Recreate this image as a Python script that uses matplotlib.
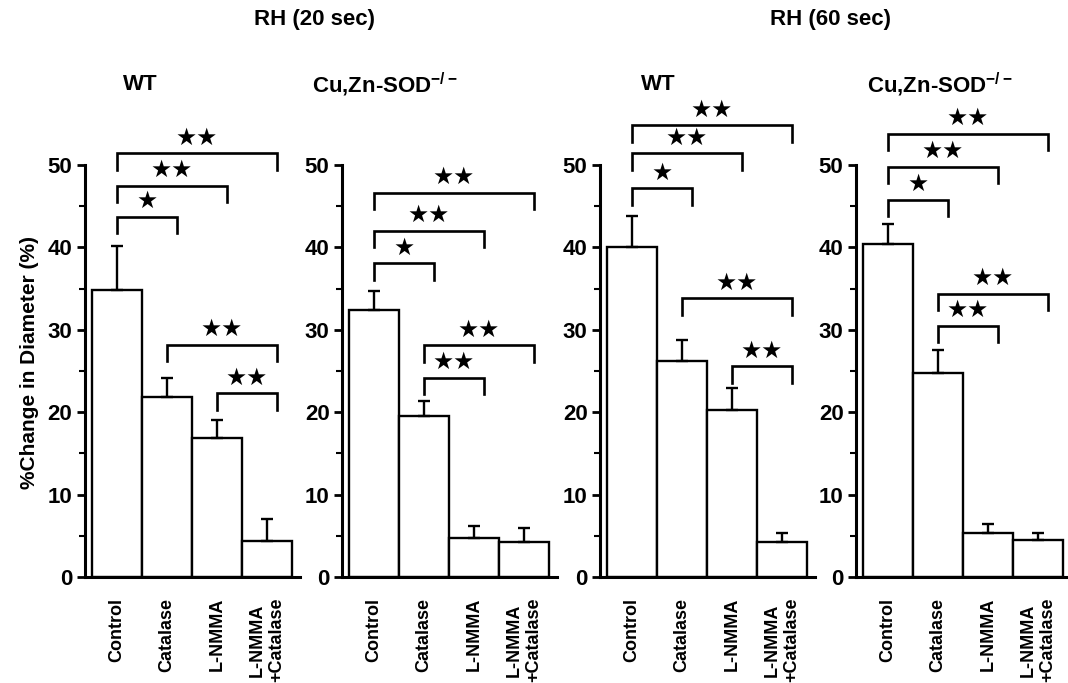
import numpy as np
import matplotlib
matplotlib.use("Agg")
import matplotlib.pyplot as plt

plt.rcParams['font.family'] = ['Liberation Sans', 'DejaVu Sans']
plt.rcParams['font.weight'] = 'bold'
plt.rcParams['axes.labelweight'] = 'bold'
plt.rcParams['mathtext.fontset'] = 'custom'
plt.rcParams['mathtext.rm'] = 'Liberation Sans:bold'
plt.rcParams['mathtext.bf'] = 'Liberation Sans:bold'

# Treatments (x categories)
groups = ["Control", "Catalase", "L-NMMA", "L-NMMA\n+Catalase"]

# % change in diameter, mean and SEM, one array per panel
wt20_mean = [34.8, 21.8, 16.9, 4.4]
wt20_sem = [5.4, 2.4, 2.2, 2.6]
sod20_mean = [32.4, 19.5, 4.7, 4.3]
sod20_sem = [2.3, 1.9, 1.5, 1.7]
wt60_mean = [40.0, 26.2, 20.3, 4.3]
wt60_sem = [3.8, 2.6, 2.6, 1.1]
sod60_mean = [40.4, 24.8, 5.4, 4.5]
sod60_sem = [2.4, 2.8, 1.0, 0.8]

# significance brackets: (from group, to group, height, stars)
wt20_sig = [(0, 3, 51.4, 2), (0, 2, 47.5, 2), (0, 1, 43.7, 1), (1, 3, 28.2, 2), (2, 3, 22.3, 2)]
sod20_sig = [(0, 3, 46.6, 2), (0, 2, 42.0, 2), (0, 1, 38.1, 1), (1, 3, 28.1, 2), (1, 2, 24.2, 2)]
wt60_sig = [(0, 3, 54.8, 2), (0, 2, 51.4, 2), (0, 1, 47.2, 1), (1, 3, 33.8, 2), (2, 3, 25.6, 2)]
sod60_sig = [(0, 3, 53.8, 2), (0, 2, 49.8, 2), (0, 1, 45.8, 1), (1, 3, 34.4, 2), (1, 2, 30.5, 2)]

panels = [
    ("WT", wt20_mean, wt20_sem, wt20_sig),
    ("Cu,Zn-SOD$^{\\mathbf{-/-}}$", sod20_mean, sod20_sem, sod20_sig),
    ("WT", wt60_mean, wt60_sem, wt60_sig),
    ("Cu,Zn-SOD$^{\\mathbf{-/-}}$", sod60_mean, sod60_sem, sod60_sig),
]

W, H = 1068, 683
fig = plt.figure(figsize=(W / 100, H / 100), dpi=100)

axis_left_px = [85, 342, 600, 856]
sub_x_px = [140, 385, 658, 940]
y0_px, y50_px = 577, 165
x_lo, x_hi = -0.64, 3.65
unit_px = 50

x = np.arange(len(groups))
for k, (name, mean, sem, sig) in enumerate(panels):
    width_px = (x_hi - x_lo) * unit_px
    ax = fig.add_axes([axis_left_px[k] / W, 1 - y0_px / H,
                       width_px / W, (y0_px - y50_px) / H])
    ax.bar(x, mean, width=1.0, color='white', edgecolor='black', linewidth=1.7, zorder=2)
    ax.errorbar(x, mean, yerr=[np.zeros(len(sem)), sem], fmt='none', ecolor='black',
                elinewidth=1.7, capsize=4.5, capthick=1.7, zorder=3)
    ax.set_xlim(x_lo, x_hi)
    ax.set_ylim(0, 50)
    for s in ['top', 'right']:
        ax.spines[s].set_visible(False)
    for s in ['left', 'bottom']:
        ax.spines[s].set_linewidth(2.2)
    ax.set_yticks(np.arange(0, 51, 10))
    ax.set_yticks(np.arange(5, 50, 10), minor=True)
    ax.set_yticklabels([str(v) for v in range(0, 51, 10)], fontsize=16, fontweight='bold')
    ax.tick_params(axis='y', which='major', length=6, width=2, pad=3)
    ax.tick_params(axis='y', which='minor', length=4, width=1.5)
    ax.set_xticks(x)
    ax.set_xticklabels(groups, rotation=90, fontsize=13, fontweight='bold',
                       va='top', ha='center', multialignment='center')
    ax.tick_params(axis='x', length=0, pad=15)
    if k == 0:
        ax.set_ylabel("%Change in Diameter (%)", fontsize=15, fontweight='bold')
        ax.yaxis.set_label_coords(-0.215, 0.52)

    # significance brackets
    for i, j, h, n in sig:
        xl, xr = i, j + 0.2
        ax.plot([xl, xl, xr, xr], [h - 2.0, h, h, h - 2.0], color='black',
                lw=1.9, clip_on=False, solid_joinstyle='miter')
        ax.text((xl + xr) / 2, h + 1.9, "\u2605" * n, ha='center', va='center',
                fontsize=17, family='DejaVu Sans', clip_on=False)

    fig.text(sub_x_px[k] / W, 1 - 85 / H, name, ha='center', va='center',
             fontsize=16, fontweight='bold')

fig.text(315 / W, 1 - 20 / H, "RH (20 sec)", ha='center', va='center', fontsize=16, fontweight='bold')
fig.text(830 / W, 1 - 20 / H, "RH (60 sec)", ha='center', va='center', fontsize=16, fontweight='bold')

fig.savefig("out.png", dpi=100)
